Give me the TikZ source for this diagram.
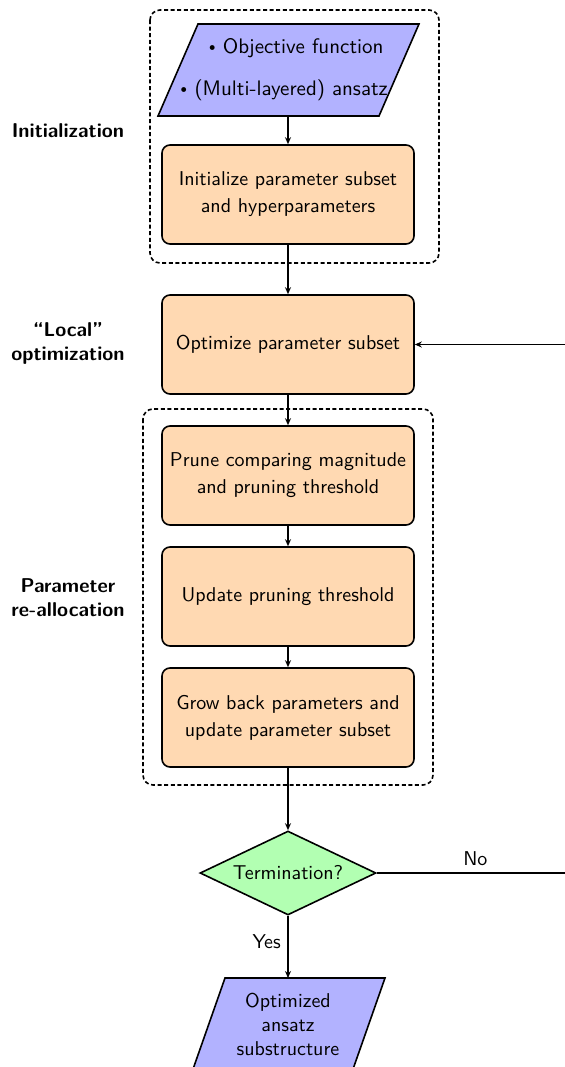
\documentclass[tikz,border=0pt]{standalone}
\usetikzlibrary{shapes.geometric,arrows.meta}
\newcommand{\itemdot}{\raisebox{0.3ex}{\tiny$\bullet$}}
\begin{document}
\begin{tikzpicture}[x=0.5pt,y=-0.5pt,
  font=\sffamily,
  stepbox/.style={draw,thick,rounded corners=4pt,fill=orange!30,
    minimum width=126pt,minimum height=49.5pt,align=center},
  iobox/.style={draw,thick,fill=blue!30},
  itemtext/.style={font=\sffamily\fontsize{10.5}{12.5}\selectfont},
  groupbox/.style={draw,thick,rounded corners=5pt,dash pattern=on 2pt off 1.3pt},
  decision/.style={diamond,draw,thick,fill=green!30,aspect=2.1,
    minimum width=88pt,minimum height=42pt,inner sep=0pt},
  sidelabel/.style={font=\sffamily\bfseries,align=center},
  arr/.style={semithick,-{Stealth[length=3.5pt,width=3pt]}},
  flow/.style={semithick}]
\useasboundingbox (0,0) rectangle (565,1067);
\clip (0,0) rectangle (565,1067);

% dashed groups
\draw[groupbox] (150,10) rectangle (439,263);
\draw[groupbox] (143,409) rectangle (433,785);

% input parallelogram
\draw[iobox] (198,24) -- (419,24) -- (379,116) -- (158,116) -- cycle;
\node[itemtext] (inA) at (296,48) {\itemdot\ Objective function};
\node[itemtext] (inB) at (284,90) {\itemdot\ (Multi-layered) ansatz};
\coordinate (inBot) at (288,116);

% process boxes
\node[stepbox] (b1) at (288,194.5) {Initialize parameter subset\\[1.5pt]and hyperparameters};
\node[stepbox] (b2) at (288,344.5) {Optimize parameter subset};
\node[stepbox] (b3) at (288,475.5) {Prune comparing magnitude\\[1.5pt]and pruning threshold};
\node[stepbox] (b4) at (288,596.5) {Update pruning threshold};
\node[stepbox] (b5) at (288,717.5) {Grow back parameters and\\[1.5pt]update parameter subset};

% decision
\node[decision] (dec) at (288,873) {Termination?};

% output parallelogram
\draw[iobox] (225,978) -- (385,978) -- (352,1072) -- (192,1072) -- cycle;
\coordinate (outTop) at (288,978);
\node[align=center] (out) at (288,1024) {Optimized\\ansatz\\substructure};

% side labels
\node[sidelabel] (l1) at (68,131) {Initialization};
\node[sidelabel] (l2) at (68,343) {``Local''\\optimization};
\node[sidelabel] (l3) at (68,598) {Parameter\\re-allocation};

% connectors
\draw[arr] (inBot) -- (b1.north);
\draw[arr] (b1.south) -- (b2.north);
\draw[arr] (b2.south) -- (b3.north);
\draw[arr] (b3.south) -- (b4.north);
\draw[arr] (b4.south) -- (b5.north);
\draw[arr] (b5.south) -- (dec.north);
\draw[arr] (dec.south) -- node[left,pos=0.42] {Yes} (outTop);
\coordinate (loop) at (574,873);
\draw[flow] (dec.east) -- node[above] {No} (loop);
\draw[arr] (loop) |- (b2.east);
\end{tikzpicture}
\end{document}
